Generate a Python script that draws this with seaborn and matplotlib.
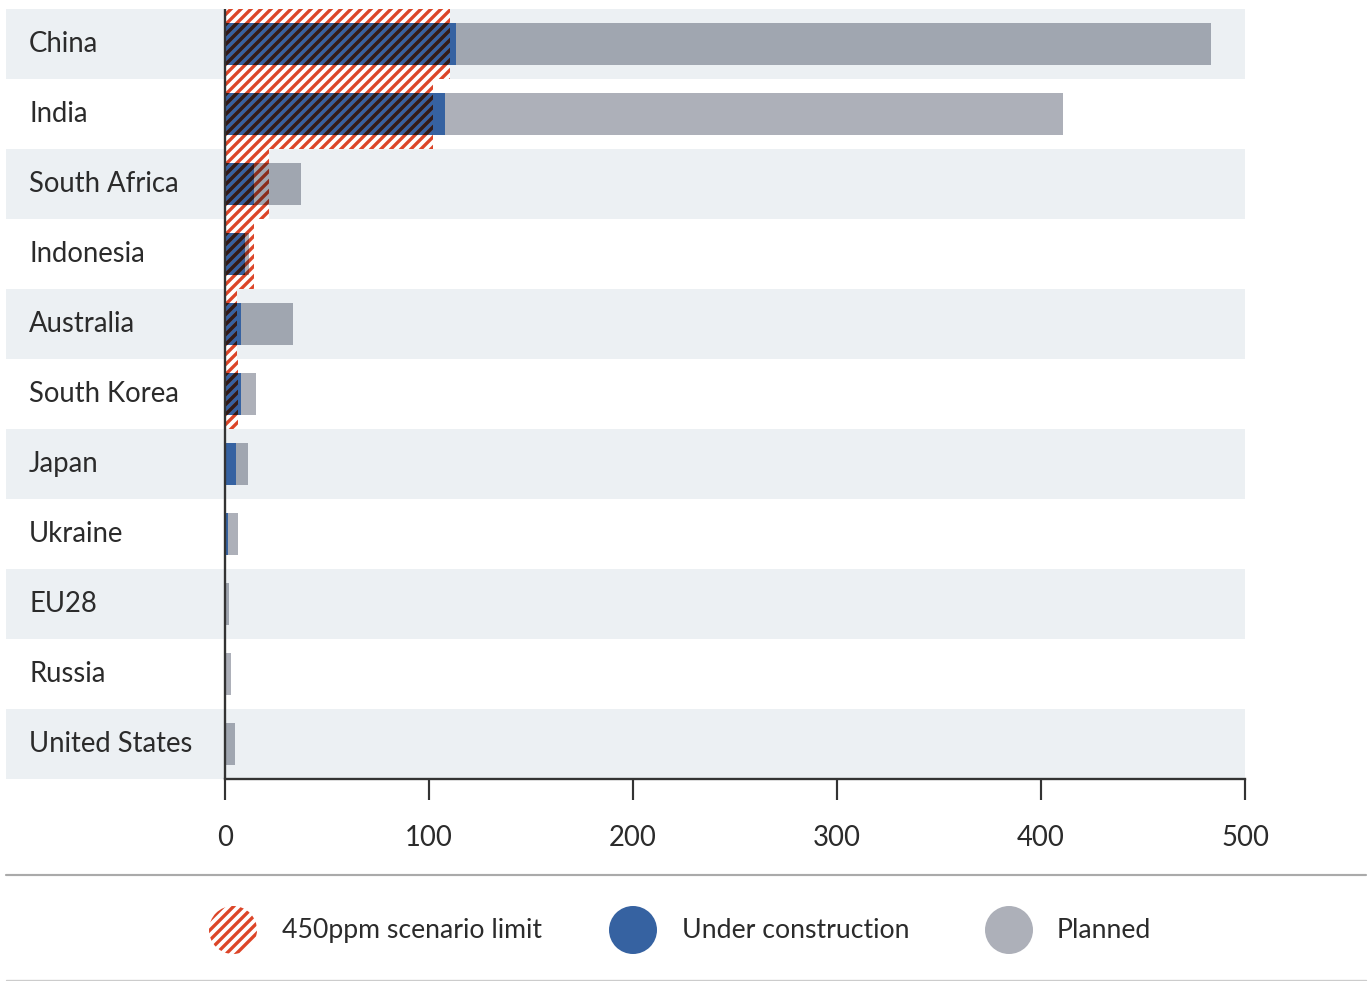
import numpy as np
import matplotlib
matplotlib.use("Agg")
import matplotlib.pyplot as plt
from matplotlib.patches import Circle
from matplotlib.lines import Line2D
from matplotlib import colors as mcolors
import seaborn as sns

# ---- data ----
countries = ["China", "India", "South Africa", "Indonesia", "Australia", "South Korea",
             "Japan", "Ukraine", "EU28", "Russia", "United States"]
under_construction = [113, 107.7, 14.1, 9.6, 7.7, 7.7, 5.4, 1.3, 0, 0, 0]
planned = [370.3, 303.1, 23.2, 2.0, 25.5, 7.3, 5.9, 5.1, 2.0, 2.9, 4.9]
limit_450ppm = [110.3, 101.8, 21.7, 14.4, 5.9, 6.5, 0, 0, 0, 0, 0]
xticks = [0, 100, 200, 300, 400, 500]
legend_labels = ["450ppm scenario limit", "Under construction", "Planned"]

# ---- style ----
RED = "#dc4528"
BLUE = "#3662a1"
GREY = "#adb0b9"
BAND = "#ecf0f3"
TXT = "#2b2b2b"
AXC = "#333333"
HATCH = "////"

sns.set_theme(style="white")
plt.rcParams["font.family"] = ["Lato", "DejaVu Sans"]
plt.rcParams["hatch.linewidth"] = 2.0

DPI = 120
W, H = 1370, 981
fig = plt.figure(figsize=(W / DPI, H / DPI), dpi=DPI)

x0_px, x500_px = 225, 1245
ax_left_px = 6
scale = (x500_px - x0_px) / 500.0
xmin = -(x0_px - ax_left_px) / scale
top_px, bot_px = 9, 779
ax = fig.add_axes([ax_left_px / W, 1 - bot_px / H, (x500_px - ax_left_px) / W, (bot_px - top_px) / H])
ax.set_facecolor("white")

n = len(countries)
band_rows = [i % 2 == 0 for i in range(n)]
for i in range(n):
    if band_rows[i]:
        ax.axhspan(i - 0.5, i + 0.5, color=BAND, zorder=0, lw=0)


def mult(c1, c2):
    a = np.array(mcolors.to_rgb(c1))
    b = np.array(mcolors.to_rgb(c2))
    return mcolors.to_hex(a * b)


grey_row = [mult(GREY, BAND) if band_rows[i] else GREY for i in range(n)]
totals = [u + p for u, p in zip(under_construction, planned)]
BW = 0.61


def add_bars(vals, width, palette, zorder, **kw):
    before = len(ax.patches)
    sns.barplot(x=vals, y=countries, hue=countries, palette=palette, legend=False,
                orient="h", width=width, saturation=1, ax=ax, **kw)
    new = ax.patches[before:]
    for p in new:
        p.set_zorder(zorder)
    return new


# limit hatch (full row height)
add_bars(limit_450ppm, 1.0, ["white"] * n, 1, linewidth=0, edgecolor=RED, hatch=HATCH)
# planned (stacked total)
add_bars(totals, BW, grey_row, 2, linewidth=0)
# under construction
add_bars(under_construction, BW, [BLUE] * n, 3, linewidth=0)

# hatch overlay over planned (multiply look)
over_grey = [min(l, t) for l, t in zip(limit_450ppm, totals)]
ps = add_bars(over_grey, BW, ["white"] * n, 4, linewidth=0, hatch=HATCH)
for p, c in zip(ps, grey_row):
    p.set_facecolor("none")
    p.set_edgecolor(mult(RED, c))
# hatch overlay over under construction
over_blue = [min(l, u) for l, u in zip(limit_450ppm, under_construction)]
ps = add_bars(over_blue, BW, ["white"] * n, 5, linewidth=0, hatch=HATCH)
for p in ps:
    p.set_facecolor("none")
    p.set_edgecolor(mult(RED, BLUE))

ax.set_xlim(xmin, 500)
ax.set_ylim(n - 0.5, -0.5)
ax.axvline(0, color=AXC, lw=1.4, zorder=6)

for s in ["top", "right", "left"]:
    ax.spines[s].set_visible(False)
ax.spines["bottom"].set_bounds(0, 500)
ax.spines["bottom"].set_color(AXC)
ax.spines["bottom"].set_linewidth(1.4)
ax.spines["bottom"].set_zorder(6)
ax.set_xticks(xticks)
ax.set_xticklabels([str(t) for t in xticks])
ax.tick_params(axis="x", direction="out", length=12.6, width=1.3, color=AXC,
               labelsize=16.5, labelcolor=TXT, pad=15, bottom=True)
ax.set_yticks([])
ax.set_xlabel("")
ax.set_ylabel("")

lab_x = (29 - ax_left_px) / (x500_px - ax_left_px)
for i, c in enumerate(countries):
    ax.text(lab_x, i, c, transform=ax.get_yaxis_transform(), ha="left", va="center",
            fontsize=16.5, color=TXT, zorder=7)

# ---- legend / separators ----
lax = fig.add_axes([0, 0, 1, 1], facecolor="none")
lax.set_xlim(0, W)
lax.set_ylim(H, 0)
lax.axis("off")
lax.add_line(Line2D([6, 1366], [875, 875], color="#aaaaaa", lw=1.3))
lax.add_line(Line2D([6, 1366], [979.5, 979.5], color="#cccccc", lw=0.8))

ly = 930
lax.add_patch(Circle((233, ly), 24, facecolor="white", edgecolor=RED, lw=0, hatch=HATCH))
lax.add_patch(Circle((633, ly), 24, facecolor=BLUE, lw=0))
lax.add_patch(Circle((1009, ly), 24, facecolor=GREY, lw=0))
for xpos, lab in zip([282, 682, 1057], legend_labels):
    lax.text(xpos, ly, lab, ha="left", va="center", fontsize=16, color=TXT)

fig.savefig("out.png", dpi=DPI)
